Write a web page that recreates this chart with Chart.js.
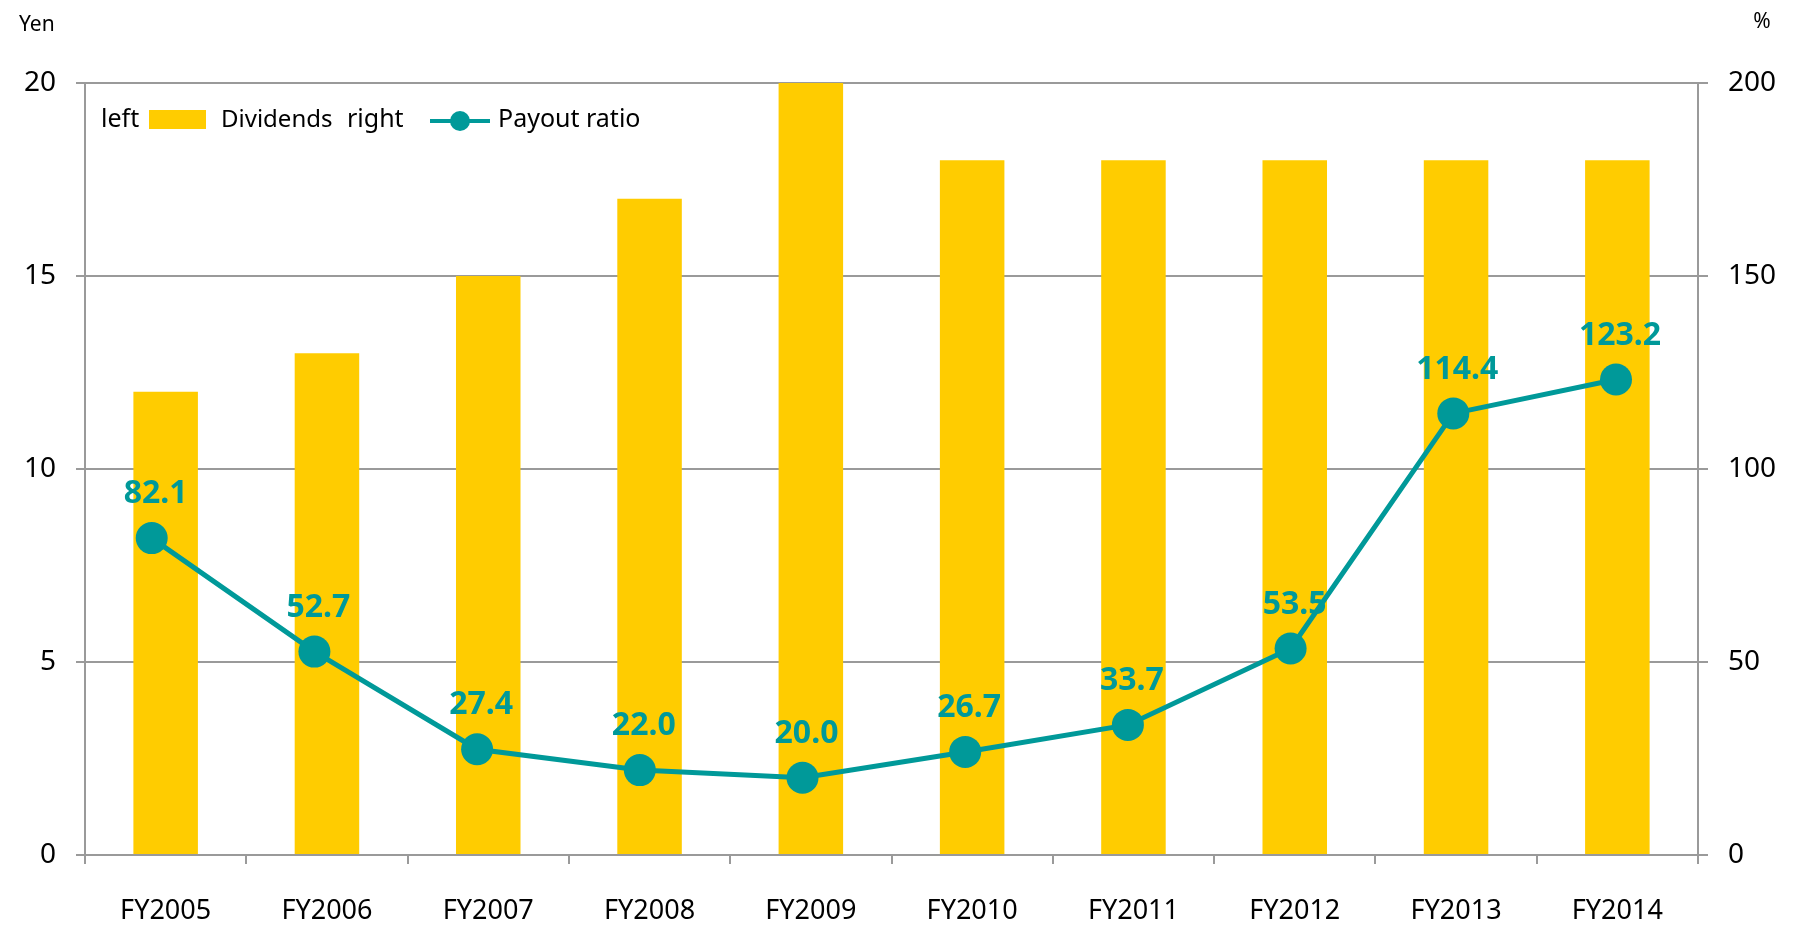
<!DOCTYPE html>
<html>
<head>
<meta charset="utf-8">
<script src="https://cdn.jsdelivr.net/npm/chart.js@4/dist/chart.umd.min.js"></script>
<style>
  body { margin: 0; background: #fff; }
  #wrap { width: 1794px; height: 927px; }
</style>
</head>
<body>
<div id="wrap"><canvas id="myChart" width="1794" height="927"></canvas></div>
<script>
const years = ['FY2005', 'FY2006', 'FY2007', 'FY2008', 'FY2009', 'FY2010', 'FY2011', 'FY2012', 'FY2013', 'FY2014'];
const dividends = [12, 13, 15, 17, 20, 18, 18, 18, 18, 18];
const payoutRatio = [82.1, 52.7, 27.4, 22.0, 20.0, 26.7, 33.7, 53.5, 114.4, 123.2];
const yenTicks = [0, 5, 10, 15, 20];
const pctTicks = [0, 50, 100, 150, 200];

const GOLD = '#FFCC00';
const TEAL = '#009999';
const GRID = '#9a9a9a';
const FONT = '"Noto Sans", "Open Sans", sans-serif';

// unit titles, in-plot legend and value labels
const extras = {
  id: 'extras',
  afterDatasetsDraw(chart) {
    const ctx = chart.ctx;
    const meta = chart.getDatasetMeta(1);
    ctx.save();
    ctx.fillStyle = TEAL;
    ctx.font = 'bold 32px ' + FONT;
    ctx.textAlign = 'center';
    ctx.textBaseline = 'middle';
    meta.data.forEach((pt, i) => {
      ctx.fillText(payoutRatio[i].toFixed(1), pt.x + 4, pt.y - 44);
    });
    ctx.restore();
  },
  afterDraw(chart) {
    const ctx = chart.ctx;
    const a = chart.chartArea;
    ctx.save();
    ctx.fillStyle = '#000';
    ctx.textBaseline = 'middle';
    ctx.font = '21px ' + FONT;
    ctx.textAlign = 'left';
    ctx.fillText('Yen', 19, 25);
    ctx.textAlign = 'center';
    ctx.fillText('%', 1762, 22);

    // legend
    const y = a.top + 37;
    ctx.font = '25px ' + FONT;
    ctx.textAlign = 'left';
    ctx.fillText('left', a.left + 16, y);
    ctx.fillStyle = GOLD;
    ctx.fillRect(a.left + 64, y - 10, 57, 19);
    ctx.fillStyle = '#000';
    ctx.font = '24px ' + FONT;
    ctx.fillText('Dividends', a.left + 136, y);
    ctx.font = '25px ' + FONT;
    ctx.fillText('right', a.left + 262, y);
    ctx.strokeStyle = TEAL;
    ctx.lineWidth = 4;
    ctx.beginPath();
    ctx.moveTo(a.left + 345, y + 1);
    ctx.lineTo(a.left + 405, y + 1);
    ctx.stroke();
    ctx.fillStyle = TEAL;
    ctx.beginPath();
    ctx.arc(a.left + 375, y + 1, 10, 0, Math.PI * 2);
    ctx.fill();
    ctx.fillStyle = '#000';
    ctx.fillText('Payout ratio', a.left + 413, y);
    ctx.restore();
  }
};

const data = {
  labels: years,
  datasets: [{
    type: 'bar',
    label: 'Dividends',
    data: dividends,
    backgroundColor: GOLD,
    barPercentage: 0.4,
    categoryPercentage: 1.0,
    grouped: false,
    xAxisID: 'x',
    yAxisID: 'y',
    order: 2
  }, {
    type: 'line',
    label: 'Payout ratio',
    data: payoutRatio.map((v, i) => ({ x: i, y: v })),
    borderColor: TEAL,
    backgroundColor: TEAL,
    borderWidth: 5,
    pointRadius: 16,
    pointHoverRadius: 16,
    pointBorderWidth: 0,
    tension: 0,
    xAxisID: 'xl',
    yAxisID: 'y1',
    order: 1
  }]
};

const config = {
  type: 'bar',
  data: data,
  plugins: [extras],
  options: {
    responsive: false,
    animation: false,
    layout: { padding: { top: 83, left: 0, right: 0, bottom: 0 } },
    plugins: {
      legend: { display: false },
      tooltip: { enabled: false }
    },
    scales: {
      x: {
        type: 'category',
        grid: { drawOnChartArea: false, tickLength: 9, color: GRID, lineWidth: 2, offset: true },
        border: { color: GRID, width: 2 },
        ticks: { color: '#000', font: { family: FONT, size: 27 }, padding: 31, maxRotation: 0 },
        afterFit(s) { s.height = 72; }
      },
      xl: { // line points sit slightly left of the bar centres in the original
        type: 'linear',
        display: false,
        offset: false,
        min: -0.41,
        max: 9.504
      },
      y: {
        position: 'left',
        min: 0,
        max: 20,
        afterBuildTicks(s) { s.ticks = yenTicks.map(v => ({ value: v })); },
        grid: { color: GRID, lineWidth: 2, tickLength: 9 },
        border: { color: GRID, width: 2 },
        ticks: { color: '#000', font: { family: FONT, size: 28 }, padding: 20 },
        afterFit(s) { s.width = 85; }
      },
      y1: {
        position: 'right',
        min: 0,
        max: 200,
        afterBuildTicks(s) { s.ticks = pctTicks.map(v => ({ value: v })); },
        grid: { drawOnChartArea: false, color: GRID, lineWidth: 2, tickLength: 10 },
        border: { color: GRID, width: 2 },
        ticks: { color: '#000', font: { family: FONT, size: 28 }, padding: 20 },
        afterFit(s) { s.width = 96; }
      }
    }
  }
};

const myChart = new Chart(document.getElementById('myChart'), config);
</script>
</body>
</html>
